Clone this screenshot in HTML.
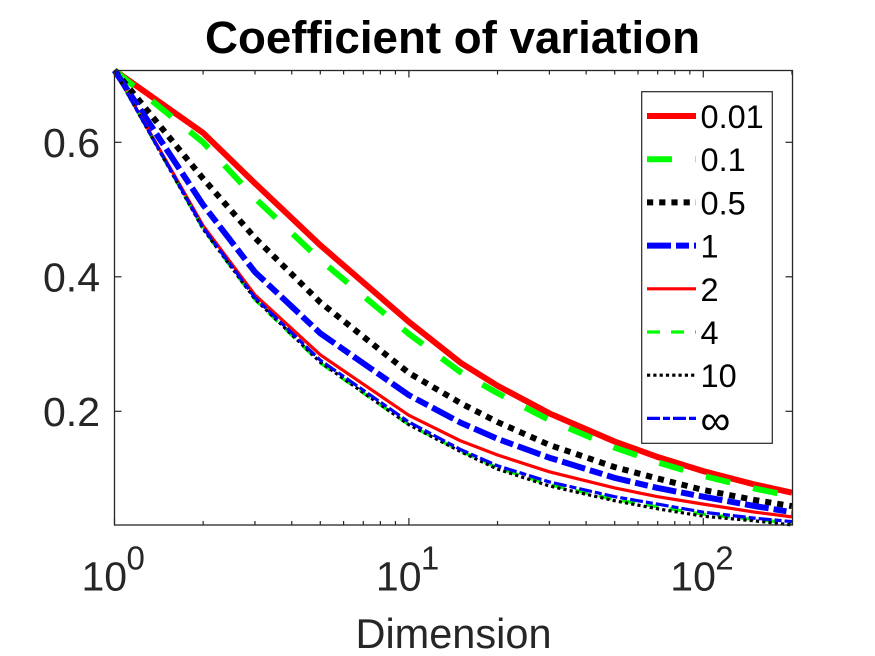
<!DOCTYPE html>
<html>
<head>
<meta charset="utf-8">
<style>
html,body{margin:0;padding:0;background:#fff;}
svg{display:block;font-family:"Liberation Sans",sans-serif;}
</style>
</head>
<body>
<svg id="chart" width="875" height="656" viewBox="0 0 875 656" xmlns="http://www.w3.org/2000/svg">
<rect width="875" height="656" fill="#fff"/>
<g id="ticks"></g>
<g id="labels"></g>
<g id="series"></g>
<rect x="114.5" y="70.5" width="678" height="454.5" fill="none" stroke="#262626" stroke-width="1.3"/>
<text x="452.5" y="53" text-anchor="middle" font-size="45.7" font-weight="bold" fill="#000">Coefficient of variation</text>
<text x="453.5" y="648" text-anchor="middle" font-size="41.5" fill="#262626">Dimension</text>
<g id="legend"></g>
</svg>
<script>
const dimensions = [1, 2, 3, 5, 10, 15, 20, 30, 50, 70, 100, 150, 200];
const seriesNames = ['0.01', '0.1', '0.5', '1', '2', '4', '10', '∞'];
const seriesA = [0.707, 0.614, 0.539, 0.447, 0.333, 0.272, 0.238, 0.197, 0.155, 0.132, 0.111, 0.091, 0.079];
const seriesB = [0.707, 0.600, 0.517, 0.425, 0.315, 0.258, 0.227, 0.187, 0.146, 0.124, 0.104, 0.085, 0.074];
const seriesC = [0.707, 0.546, 0.458, 0.362, 0.257, 0.212, 0.184, 0.150, 0.117, 0.100, 0.083, 0.068, 0.059];
const seriesD = [0.707, 0.507, 0.407, 0.316, 0.224, 0.183, 0.159, 0.131, 0.101, 0.086, 0.073, 0.059, 0.050];
const seriesE = [0.707, 0.476, 0.373, 0.284, 0.194, 0.156, 0.135, 0.110, 0.086, 0.073, 0.062, 0.050, 0.043];
const seriesF = [0.707, 0.471, 0.366, 0.272, 0.180, 0.141, 0.116, 0.091, 0.069, 0.058, 0.047, 0.039, 0.034];
const seriesG = [0.707, 0.471, 0.367, 0.273, 0.180, 0.140, 0.114, 0.089, 0.067, 0.055, 0.044, 0.037, 0.031];
const seriesH = [0.707, 0.473, 0.369, 0.276, 0.184, 0.143, 0.119, 0.095, 0.073, 0.062, 0.050, 0.041, 0.036];
const yTicks = [0.2, 0.4, 0.6];
const yTickLabels = ['0.2', '0.4', '0.6'];
const xMajorTicks = [1, 10, 100];
const xExponents = ['0', '1', '2'];
const xMinorTicks = [2, 3, 4, 5, 6, 7, 8, 9, 20, 30, 40, 50, 60, 70, 80, 90, 200];

const allSeries = [seriesA, seriesB, seriesC, seriesD, seriesE, seriesF, seriesG, seriesH];
const colors = ['#ff0000', '#00ff00', '#000000', '#0000ff', '#ff0000', '#00ff00', '#000000', '#0000ff'];
const widths = [6, 6, 6, 6, 3.2, 3.2, 3.2, 3.2];
const dashes = ['', '25 23.5', '6.2 6', '24 5 13 5', '', '13 11', '3.2 3.1', '13 3 7 3'];
const seriesSlugs = ['0-01', '0-1', '0-5', '1', '2', '4', '10', 'infinity'];

const NS = 'http://www.w3.org/2000/svg';
function xPos(v) { return 114.5 + Math.log10(v) * 294.4; }
function yPos(v) { return 411.3 - (v - 0.2) * 672.5; }
function make(tag, attrs, parent) {
  const el = document.createElementNS(NS, tag);
  for (const k in attrs) el.setAttribute(k, attrs[k]);
  parent.appendChild(el);
  return el;
}
const tickGroup = document.getElementById('ticks');
const labelGroup = document.getElementById('labels');
const seriesGroup = document.getElementById('series');
const legendGroup = document.getElementById('legend');
const tickStyle = { stroke: '#262626', 'stroke-width': 1.2 };

yTicks.forEach(function (t, i) {
  const y = yPos(t);
  const left = make('line', Object.assign({ x1: 114.5, x2: 121.5, y1: y, y2: y }, tickStyle), tickGroup);
  
  
  const right = make('line', Object.assign({ x1: 792.5, x2: 785.5, y1: y, y2: y }, tickStyle), tickGroup);
  
  
  const label = make('text', { x: 100, y: y + 14.5, 'text-anchor': 'end', 'font-size': 41, fill: '#262626' }, labelGroup);
  
  
  label.textContent = yTickLabels[i];
});

xMajorTicks.forEach(function (t, i) {
  const x = xPos(t);
  const bottom = make('line', Object.assign({ x1: x, x2: x, y1: 525, y2: 518 }, tickStyle), tickGroup);
  
  
  const topTick = make('line', Object.assign({ x1: x, x2: x, y1: 70.5, y2: 77.5 }, tickStyle), tickGroup);
  
  
  const base = make('text', { x: x - 33, y: 590.5, 'font-size': 41, fill: '#262626' }, labelGroup);
  
  
  base.textContent = '10';
  const exp = make('text', { x: x + 12, y: 569.5, 'font-size': 33, fill: '#262626' }, labelGroup);
  
  
  exp.textContent = xExponents[i];
});

xMinorTicks.forEach(function (t) {
  const x = xPos(t);
  const bottom = make('line', Object.assign({ x1: x, x2: x, y1: 525, y2: 521 }, tickStyle), tickGroup);
  
  
  const topTick = make('line', Object.assign({ x1: x, x2: x, y1: 70.5, y2: 74.5 }, tickStyle), tickGroup);
  
  
});

allSeries.forEach(function (values, i) {
  const pts = values.map(function (v, j) {
    return xPos(dimensions[j]).toFixed(2) + ',' + yPos(v).toFixed(2);
  }).join(' ');
  const line = make('polyline', {
    points: pts, fill: 'none', stroke: colors[i], 'stroke-width': widths[i],
    'stroke-linejoin': 'round', 'stroke-dasharray': dashes[i] || 'none'
  }, seriesGroup);
  
  
});

const legendBox = make('rect', { x: 641.7, y: 91.7, width: 130.6, height: 351.6, fill: '#fff', stroke: '#262626', 'stroke-width': 1.2 }, legendGroup);



seriesNames.forEach(function (name, i) {
  const y = 116 + i * 43.2;
  const sample = make('line', {
    x1: 647, x2: 696, y1: y, y2: y, stroke: colors[i], 'stroke-width': widths[i],
    'stroke-dasharray': dashes[i] || 'none'
  }, legendGroup);
  
  
  const isInfinity = name === '∞';
  const label = make('text', { x: 700.5, y: y + (isInfinity ? 16 : 12), 'font-size': isInfinity ? 42 : 32.5, fill: '#000' }, legendGroup);
  
  
  label.textContent = name;
});
</script>
</body>
</html>
